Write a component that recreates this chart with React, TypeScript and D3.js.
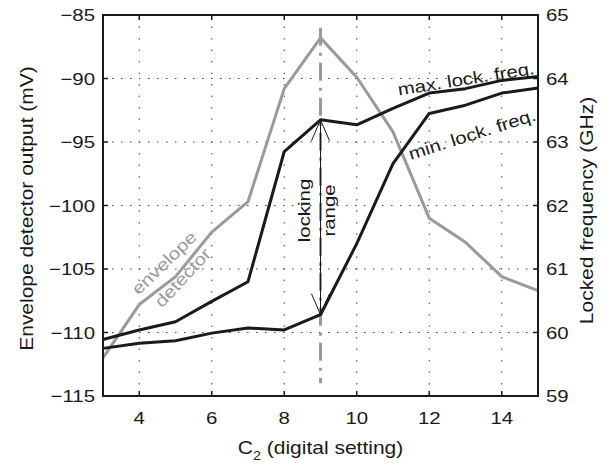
import React from 'react';
import * as d3 from 'd3';

// C2 digital setting on the x axis
const cSetting = [3, 4, 5, 6, 7, 8, 9, 10, 11, 12, 13, 14, 15];
// envelope detector output, left axis (mV)
const envelopeMv = [-112.0, -107.8, -105.6, -102.1, -99.7, -90.8, -86.8, -89.9, -94.2, -101.0, -102.9, -105.6, -106.7];
// locking range edges, right axis (GHz)
const maxLockGhz = [59.89, 60.04, 60.17, 60.49, 60.8, 62.85, 63.35, 63.27, 63.53, 63.77, 63.84, 63.97, 64.03];
const minLockGhz = [59.75, 59.83, 59.87, 59.99, 60.07, 60.04, 60.28, 61.4, 62.66, 63.45, 63.58, 63.77, 63.85];

const xTicks = [4, 6, 8, 10, 12, 14];
const leftTicks = [-115, -110, -105, -100, -95, -90, -85];
const rightTicks = [59, 60, 61, 62, 63, 64, 65];

// optimum setting marker (dash-dot line) and its extent in mV
const markerSetting = 9;
const markerSpanMv = [-114, -86];

const W = 612;
const H = 466;
const margin = { top: 15, right: 74, bottom: 70, left: 103 };

const FONT = '"Liberation Sans", Arial, Helvetica, sans-serif';
const STRETCH = 1.2; // the original lettering is wide

const Label = ({ x, y, rotate = 0, anchor = 'middle', size = 17, fill = '#1a1a1a', children }: any) => (
  <text
    transform={`translate(${x},${y}) rotate(${rotate}) scale(${STRETCH},1)`}
    textAnchor={anchor}
    fontFamily={FONT}
    fontSize={size}
    fill={fill}
  >
    {children}
  </text>
);

export default function App() {
  const x = d3.scaleLinear().domain([3, 15]).range([margin.left, W - margin.right]);
  const yL = d3.scaleLinear().domain([-115, -85]).range([H - margin.bottom, margin.top]);
  const yR = d3.scaleLinear().domain([59, 65]).range([H - margin.bottom, margin.top]);

  const x0 = x.range()[0];
  const x1 = x.range()[1];
  const yb = yL.range()[0];
  const yt = yL.range()[1];

  const lineL = d3.line<number>().x((_, i) => x(cSetting[i])).y((d) => yL(d));
  const lineR = d3.line<number>().x((_, i) => x(cSetting[i])).y((d) => yR(d));

  const gray = '#9a9a9a';
  const black = '#1a1a1a';
  const tick = 5;

  const mi = cSetting.indexOf(markerSetting);
  const ax = x(markerSetting);
  const aTop = yR(maxLockGhz[mi]);
  const aBot = yR(minLockGhz[mi]);

  return (
    <svg width={W} height={H} style={{ position: 'absolute', left: 0, top: 0, background: '#fff' }}>
      {/* grid */}
      <g stroke="#444" strokeWidth={1}>
        {xTicks.map((t) => (
          <line key={'gx' + t} x1={x(t)} x2={x(t)} y1={yb} y2={yt} strokeDasharray="1.5,10" />
        ))}
        {leftTicks.slice(1, -1).map((t) => (
          <line key={'gy' + t} x1={x0} x2={x1} y1={yL(t)} y2={yL(t)} strokeDasharray="1.5,7.5" />
        ))}
      </g>

      {/* locking marker */}
      <line
        x1={x(markerSetting)}
        x2={x(markerSetting)}
        y1={yL(markerSpanMv[1])}
        y2={yL(markerSpanMv[0])}
        stroke={gray}
        strokeWidth={3}
        strokeDasharray="18,7,3,7"
      />

      {/* series */}
      <path d={lineL(envelopeMv) || ''} fill="none" stroke={gray} strokeWidth={3} strokeLinejoin="round" />
      <path d={lineR(maxLockGhz) || ''} fill="none" stroke={black} strokeWidth={3} strokeLinejoin="round" />
      <path d={lineR(minLockGhz) || ''} fill="none" stroke={black} strokeWidth={3} strokeLinejoin="round" />

      {/* locking range arrow */}
      <g stroke={black} strokeWidth={1} fill="none">
        <line x1={ax} x2={ax} y1={aTop} y2={aBot} />
        <path d={`M${ax - 9},${aTop + 21} L${ax},${aTop} L${ax + 9},${aTop + 21}`} />
        <path d={`M${ax - 9},${aBot - 21} L${ax},${aBot} L${ax + 9},${aBot - 21}`} />
      </g>

      {/* frame + ticks */}
      <rect x={x0} y={yt} width={x1 - x0} height={yb - yt} fill="none" stroke={black} strokeWidth={2} />
      <g stroke={black} strokeWidth={1.5}>
        {xTicks.map((t) => (
          <g key={'tx' + t}>
            <line x1={x(t)} x2={x(t)} y1={yb} y2={yb - tick} />
            <line x1={x(t)} x2={x(t)} y1={yt} y2={yt + tick} />
          </g>
        ))}
        {leftTicks.map((t) => (
          <line key={'tl' + t} x1={x0} x2={x0 + tick} y1={yL(t)} y2={yL(t)} />
        ))}
        {rightTicks.map((t) => (
          <line key={'tr' + t} x1={x1} x2={x1 - tick} y1={yR(t)} y2={yR(t)} />
        ))}
      </g>

      {/* tick labels */}
      {xTicks.map((t) => (
        <Label key={'lx' + t} x={x(t)} y={yb + 28}>{t}</Label>
      ))}
      {leftTicks.map((t) => (
        <Label key={'ll' + t} x={x0 - 8} y={yL(t) + 6} anchor="end">
          {t < 0 ? '\u2212' + Math.abs(t) : t}
        </Label>
      ))}
      {rightTicks.map((t) => (
        <Label key={'lr' + t} x={x1 + 8} y={yR(t) + 6} anchor="start">{t}</Label>
      ))}

      {/* axis titles */}
      <text
        transform={`translate(${(x0 + x1) / 2},${yb + 58}) scale(${STRETCH},1)`}
        textAnchor="middle"
        fontFamily={FONT}
        fontSize={17.5}
        fill={black}
      >
        C<tspan dy={6} fontSize={12}>2</tspan>
        <tspan dy={-6}> (digital setting)</tspan>
      </text>
      <Label x={33} y={(yt + yb) / 2 + 3} rotate={-90} size={17.5}>Envelope detector output (mV)</Label>
      <Label x={593} y={(yt + yb) / 2 + 5} rotate={-90} size={17.5}>Locked frequency (GHz)</Label>

      {/* annotations */}
      <Label x={x(4.8)} y={yL(-104.45) + 5} rotate={-44} fill={gray}>envelope</Label>
      <Label x={x(5.32)} y={yL(-105.6) + 5} rotate={-47} fill={gray}>detector</Label>
      <Label x={x(8.71)} y={yL(-100) + 5} rotate={-90}>locking</Label>
      <Label x={x(9.4)} y={yL(-100) + 5} rotate={-90}>range</Label>
      <Label x={x(13.04)} y={yR(63.98) + 5} rotate={-9}>max. lock. freq.</Label>
      <Label x={x(13.23)} y={yR(63.11) + 5} rotate={-17.5}>min. lock. freq.</Label>
    </svg>
  );
}
